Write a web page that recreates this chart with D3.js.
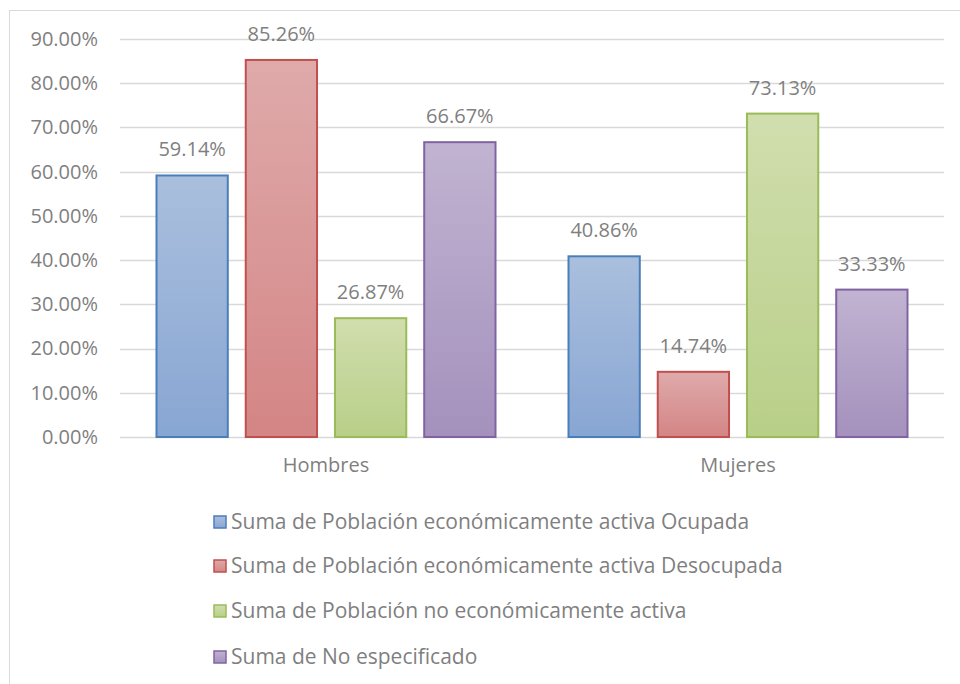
<!DOCTYPE html>
<html>
<head>
<meta charset="utf-8">
<script src="https://cdn.jsdelivr.net/npm/d3@7"></script>
<style>
  body { margin: 0; background: #fff; }
  text { font-family: "Open Sans", sans-serif; fill: #7f7f7f; }
</style>
</head>
<body>
<div id="chart"></div>
<script>
// data
var categories = ["Hombres", "Mujeres"];
var seriesNames = [
  "Suma de Población económicamente activa Ocupada",
  "Suma de Población económicamente activa Desocupada",
  "Suma de Población no económicamente activa",
  "Suma de No especificado"
];
var ocupada = [59.14, 40.86];
var desocupada = [85.26, 14.74];
var noActiva = [26.87, 73.13];
var noEspecificado = [66.67, 33.33];
var yTicks = [0, 10, 20, 30, 40, 50, 60, 70, 80, 90];

var series = [ocupada, desocupada, noActiva, noEspecificado];

// colours: top, bottom of the gradient and the border
var colors = [
  {top: "#aabfdd", bottom: "#88a6d3", stroke: "#4a7ebb"},
  {top: "#dfaaaa", bottom: "#d48585", stroke: "#c0504d"},
  {top: "#d1deae", bottom: "#b8cf88", stroke: "#9bbb59"},
  {top: "#c1b3d1", bottom: "#a491bd", stroke: "#8064a2"}
];

var W = 960, H = 684;
var margin = {top: 39, right: 16, bottom: 247, left: 120};
var width = W - margin.left - margin.right,
    height = H - margin.top - margin.bottom;

var svg = d3.select("#chart").append("svg")
    .attr("width", W)
    .attr("height", H);

// outer chart border (runs off right and bottom)
svg.append("rect")
    .attr("x", 9.5).attr("y", 10.5)
    .attr("width", 960).attr("height", 700)
    .attr("fill", "none")
    .attr("stroke", "#d9d9d9");

var defs = svg.append("defs");
colors.forEach(function(c, i) {
  var g = defs.append("linearGradient")
      .attr("id", "grad" + i)
      .attr("x1", 0).attr("y1", 0).attr("x2", 0).attr("y2", 1);
  g.append("stop").attr("offset", "0%").attr("stop-color", c.top);
  g.append("stop").attr("offset", "100%").attr("stop-color", c.bottom);
});

var g = svg.append("g")
    .attr("transform", "translate(" + margin.left + "," + margin.top + ")");

var y = d3.scaleLinear().domain([0, 90]).range([height, 0]);
var x0 = d3.scaleBand().domain(categories).range([0, width]);
var x1 = d3.scaleBand().domain(d3.range(series.length))
    .range([36, x0.bandwidth() - 36])
    .paddingInner(0.19);

// gridlines
g.selectAll(".grid")
  .data(yTicks)
  .enter().append("line")
    .attr("x1", 0).attr("x2", width)
    .attr("y1", function(d) { return Math.round(y(d)) + 0.5; })
    .attr("y2", function(d) { return Math.round(y(d)) + 0.5; })
    .attr("stroke", "#d9d9d9")
    .attr("stroke-width", 1.5);

// y axis labels
var yAxis = d3.axisLeft(y).tickValues(yTicks)
    .tickSize(0).tickPadding(22)
    .tickFormat(function(d) { return d.toFixed(2) + "%"; });
g.append("g")
    .call(yAxis)
    .call(function(a) { a.select(".domain").remove(); })
    .selectAll("text")
    .attr("font-size", 20)
    .attr("font-family", "Open Sans, sans-serif")
    .attr("fill", "#7f7f7f");

// x axis labels
var xAxis = d3.axisBottom(x0).tickSize(0).tickPadding(21);
g.append("g")
    .attr("transform", "translate(0," + height + ")")
    .call(xAxis)
    .call(function(a) { a.select(".domain").remove(); })
    .selectAll("text")
    .attr("font-size", 20)
    .attr("font-family", "Open Sans, sans-serif")
    .attr("fill", "#7f7f7f");

// bars
categories.forEach(function(cat, ci) {
  series.forEach(function(vals, si) {
    var v = vals[ci];
    var bx = x0(cat) + x1(si);
    g.append("rect")
      .attr("x", bx + 0.5)
      .attr("y", y(v))
      .attr("width", x1.bandwidth() - 1)
      .attr("height", height - y(v))
      .attr("fill", "url(#grad" + si + ")")
      .attr("stroke", colors[si].stroke)
      .attr("stroke-width", 2);
    g.append("text")
      .attr("x", bx + x1.bandwidth() / 2)
      .attr("y", y(v) - 19)
      .attr("text-anchor", "middle")
      .attr("font-size", 20)
      .text(v.toFixed(2) + "%");
  });
});

// legend
var legend = svg.append("g").attr("transform", "translate(213,0)");
var legendY = [522, 566, 611, 657];
seriesNames.forEach(function(name, i) {
  legend.append("rect")
    .attr("x", 1).attr("y", legendY[i] - 6)
    .attr("width", 12).attr("height", 12)
    .attr("fill", "url(#grad" + i + ")")
    .attr("stroke", colors[i].stroke)
    .attr("stroke-width", 1.5);
  legend.append("text")
    .attr("x", 18).attr("y", legendY[i])
    .attr("dy", "0.35em")
    .attr("font-size", 21)
    .text(name);
});
</script>
</body>
</html>
